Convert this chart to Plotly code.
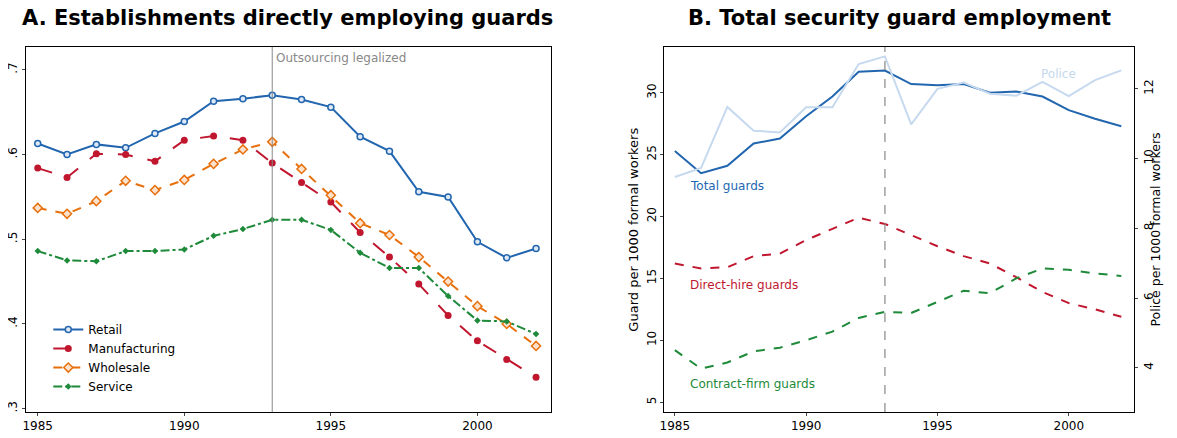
import plotly.graph_objects as go

years = list(range(1985, 2003))

# Panel A: share of establishments directly employing guards
retail = [.613, .600, .612, .608, .625, .639, .663, .666, .670, .665, .656, .621, .604, .556, .550, .497, .478, .489]
manufacturing = [.584, .573, .601, .600, .592, .617, .622, .617, .590, .567, .544, .508, .479, .447, .410, .380, .358, .337]
wholesale = [.537, .530, .545, .569, .558, .570, .589, .606, .615, .583, .552, .519, .505, .479, .450, .421, .400, .374]
service = [.486, .475, .474, .486, .486, .488, .504, .512, .523, .523, .511, .484, .466, .466, .433, .404, .403, .388]

# Panel B: guards per 1000 formal workers (left), police (right)
total_guards = [25.3, 23.5, 24.1, 25.9, 26.3, 28.1, 29.7, 31.7, 31.8, 30.7, 30.6, 30.7, 30.0, 30.1, 29.7, 28.6, 27.9, 27.3]
direct_hire = [16.2, 15.8, 15.9, 16.8, 17.0, 18.1, 19.0, 19.9, 19.4, 18.5, 17.6, 16.8, 16.2, 15.1, 13.9, 13.0, 12.5, 11.9]
contract = [9.2, 7.7, 8.2, 9.1, 9.4, 10.0, 10.7, 11.8, 12.3, 12.2, 13.1, 14.0, 13.8, 15.0, 15.8, 15.7, 15.4, 15.2]
police = [9.47, 9.73, 11.48, 10.8, 10.75, 11.47, 11.47, 12.71, 12.93, 10.98, 12.0, 12.18, 11.86, 11.8, 12.2, 11.79, 12.25, 12.53]

BLUE = "#2266b0"
RED = "#c0172f"
ORANGE = "#e8700c"
GREEN = "#1e8a3a"
LIGHT = "#c6d9ee"

fig = go.Figure()

fig.add_trace(go.Scatter(x=years, y=retail, name="Retail", mode="lines+markers",
                         line=dict(color=BLUE, width=2),
                         marker=dict(symbol="circle", size=6, color="#dfe9f5", line=dict(color=BLUE, width=1.5))))
fig.add_trace(go.Scatter(x=years, y=manufacturing, name="Manufacturing", mode="lines+markers",
                         line=dict(color=RED, width=2, dash="longdash"),
                         marker=dict(symbol="circle", size=7, color=RED)))
fig.add_trace(go.Scatter(x=years, y=wholesale, name="Wholesale", mode="lines+markers",
                         line=dict(color=ORANGE, width=2, dash="dash"),
                         marker=dict(symbol="diamond", size=7, color="#fbe2cc", line=dict(color=ORANGE, width=1.5))))
fig.add_trace(go.Scatter(x=years, y=service, name="Service", mode="lines+markers",
                         line=dict(color=GREEN, width=2, dash="dashdot"),
                         marker=dict(symbol="diamond", size=5, color=GREEN)))

fig.add_trace(go.Scatter(x=years, y=police, mode="lines", showlegend=False,
                         line=dict(color=LIGHT, width=2), xaxis="x2", yaxis="y3"))
fig.add_trace(go.Scatter(x=years, y=total_guards, mode="lines", showlegend=False,
                         line=dict(color=BLUE, width=2), xaxis="x2", yaxis="y2"))
fig.add_trace(go.Scatter(x=years, y=direct_hire, mode="lines", showlegend=False,
                         line=dict(color=RED, width=2, dash="dash"), xaxis="x2", yaxis="y2"))
fig.add_trace(go.Scatter(x=years, y=contract, mode="lines", showlegend=False,
                         line=dict(color=GREEN, width=2, dash="dash"), xaxis="x2", yaxis="y2"))

ax = dict(showline=True, linecolor="black", linewidth=1, mirror=True, ticks="outside",
          ticklen=3, showgrid=False, zeroline=False, tickfont=dict(size=12, color="black"),
          automargin=False)

fig.update_layout(
    width=1161, height=422, plot_bgcolor="white", paper_bgcolor="white",
    margin=dict(l=18, r=29, t=39, b=18),
    font=dict(family="DejaVu Sans", color="black"),
    xaxis=dict(ax, domain=[0, 0.471], range=[1984.6, 2002.5], tickvals=[1985, 1990, 1995, 2000]),
    yaxis=dict(ax, range=[0.296, 0.727], tickvals=[.3, .4, .5, .6, .7],
               ticktext=[".3", ".4", ".5", ".6", ".7"], tickangle=-90),
    xaxis2=dict(ax, domain=[0.573, 0.995], range=[1984.6, 2002.5], tickvals=[1985, 1990, 1995, 2000],
                anchor="y2"),
    yaxis2=dict(ax, anchor="x2", range=[4.2, 33.7], tickvals=[5, 10, 15, 20, 25, 30], tickangle=-90,
                mirror=False),
    yaxis3=dict(ax, overlaying="y2", side="right", anchor="x2", range=[2.73, 13.2],
                tickvals=[4, 6, 8, 10, 12], tickangle=-90, mirror=False),
    legend=dict(x=0.02, y=0.03, xanchor="left", yanchor="bottom", bgcolor="rgba(0,0,0,0)",
                font=dict(size=12), tracegroupgap=2),
    shapes=[
        dict(type="line", xref="x", yref="paper", x0=1993, x1=1993, y0=0, y1=1,
             line=dict(color="#888888", width=1)),
        dict(type="line", xref="x2", yref="paper", x0=1993, x1=1993, y0=0, y1=1,
             line=dict(color="#888888", width=1.2, dash="dash")),
    ],
    annotations=[
        dict(text="<b>A. Establishments directly employing guards</b>", xref="paper", yref="paper",
             x=0.235, y=1.079, xanchor="center", yanchor="middle", showarrow=False, font=dict(size=21)),
        dict(text="<b>B. Total security guard employment</b>", xref="paper", yref="paper",
             x=0.784, y=1.079, xanchor="center", yanchor="middle", showarrow=False, font=dict(size=21)),
        dict(text="Guard per 1000 formal workers", xref="paper", yref="paper", x=0.545, y=0.5,
             textangle=-90, showarrow=False, font=dict(size=13)),
        dict(text="Police per 1000 formal workers", xref="paper", yref="paper", x=1.022, y=0.5,
             textangle=-90, showarrow=False, font=dict(size=12.5)),
        dict(text="Outsourcing legalized", xref="x", yref="paper", x=1993.05, y=0.995,
             xanchor="left", yanchor="top", showarrow=False, font=dict(size=12, color="#888888")),
        dict(text="Total guards", xref="x2", yref="y2", x=1985.5, y=22.5, xanchor="left",
             showarrow=False, font=dict(size=12, color=BLUE)),
        dict(text="Direct-hire guards", xref="x2", yref="y2", x=1985.5, y=14.5, xanchor="left",
             showarrow=False, font=dict(size=12, color=RED)),
        dict(text="Contract-firm guards", xref="x2", yref="y2", x=1985.5, y=6.5, xanchor="left",
             showarrow=False, font=dict(size=12, color=GREEN)),
        dict(text="Police", xref="x2", yref="y2", x=1999.6, y=31.5, xanchor="center",
             showarrow=False, font=dict(size=12, color=LIGHT)),
    ],
)

fig.write_html("out.html")
